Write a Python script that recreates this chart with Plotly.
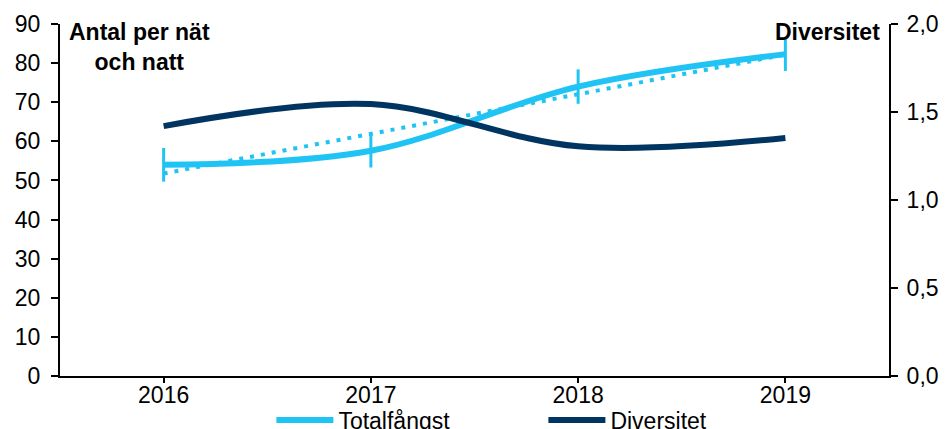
import numpy as np
import plotly.graph_objects as go

years = ["2016", "2017", "2018", "2019"]
totalfangst = [54.0, 57.6, 74.0, 82.3]
totalfangst_err = [4.3, 4.3, 4.4, 4.3]
diversitet = [1.42, 1.545, 1.305, 1.352]

x = np.arange(len(years))
slope, intercept = np.polyfit(x, totalfangst, 1)
trend = intercept + slope * x

LIGHT = "#20C4F4"
DARK = "#003562"
FONT = "Liberation Sans, Arial, sans-serif"
FS = 23

fig = go.Figure()
fig.add_trace(go.Scatter(
    x=x, y=trend, mode="lines", showlegend=False,
    line=dict(color=LIGHT, width=4, dash="4px,7px"), hoverinfo="skip"))
fig.add_trace(go.Scatter(
    x=x, y=totalfangst, mode="lines", name="Totalfångst",
    line=dict(color=LIGHT, width=6, shape="spline", smoothing=1.0),
    error_y=dict(type="data", array=totalfangst_err, color=LIGHT, thickness=3, width=0)))
fig.add_trace(go.Scatter(
    x=x, y=diversitet, mode="lines", name="Diversitet", yaxis="y2",
    line=dict(color=DARK, width=6, shape="spline", smoothing=1.0)))

axis_common = dict(showgrid=False, zeroline=False, showline=True, linecolor="black",
                   linewidth=2, ticks="outside", tickwidth=2, tickcolor="black")

fig.update_layout(
    width=946, height=429,
    margin=dict(l=60, r=57, t=24, b=53, autoexpand=False),
    paper_bgcolor="white", plot_bgcolor="white",
    font=dict(family=FONT, size=FS, color="black"),
    separators=", ",
    showlegend=True,
    legend=dict(orientation="h", x=0.255, xanchor="left", y=-0.125, yanchor="middle",
                font=dict(size=FS), itemwidth=57, entrywidth=200,
                bgcolor="rgba(0,0,0,0)"),
    xaxis=dict(range=[-0.5, 3.5], tickvals=list(x), ticktext=years,
               ticklen=5, ticklabelstandoff=-8, **axis_common),
    yaxis=dict(range=[0, 90], dtick=10, ticklen=7, ticklabelstandoff=6, **axis_common),
    yaxis2=dict(range=[0, 2], dtick=0.5, tickformat=".1f", overlaying="y", side="right",
                ticklen=7, ticklabelstandoff=4, **axis_common),
    annotations=[
        dict(text="<b>Antal per nät<br>och natt</b>", xref="paper", yref="paper",
             x=0.096, y=1.02, xanchor="center", yanchor="top", showarrow=False,
             font=dict(size=FS, family=FONT), align="center"),
        dict(text="<b>Diversitet</b>", xref="paper", yref="paper",
             x=0.992, y=1.02, xanchor="right", yanchor="top", showarrow=False,
             font=dict(size=FS, family=FONT)),
    ],
)

fig.write_html("out.html", config={"displayModeBar": False},
               post_script="document.body.style.margin='0px';")
